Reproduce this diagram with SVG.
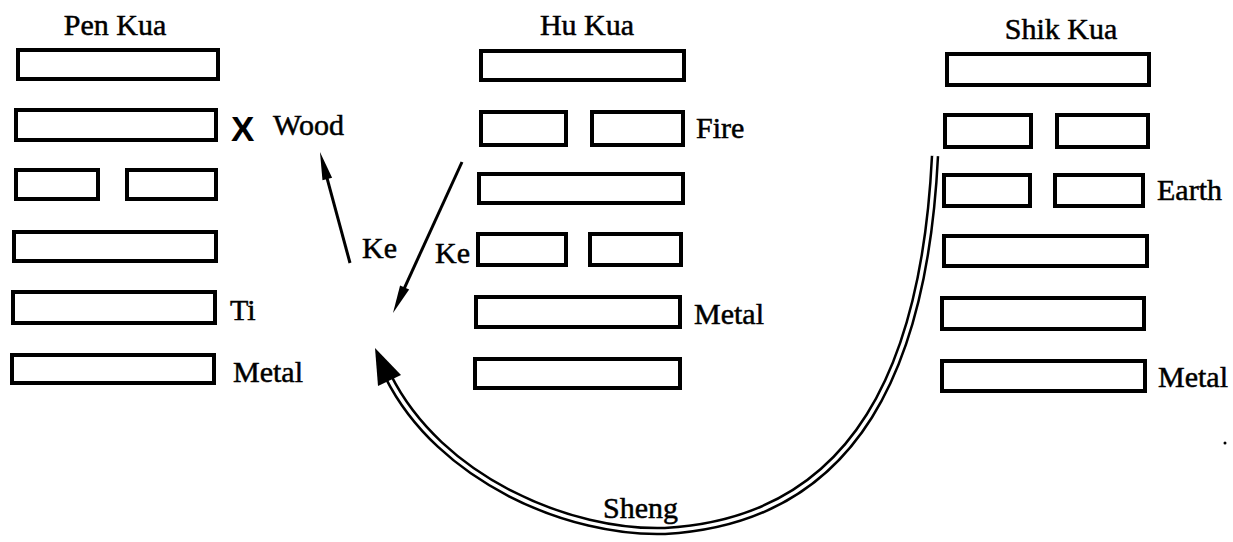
<svg xmlns="http://www.w3.org/2000/svg" width="1233" height="542" viewBox="0 0 1233 542">
<style>
.bar{fill:#fff;stroke:#000;stroke-width:4}
.t{font-family:"Liberation Serif","Times New Roman",serif;font-size:30px;fill:#000;stroke:#000;stroke-width:0.5}
.mid{text-anchor:middle}
.ke{stroke:#000;stroke-width:3;fill:none}
</style>
<defs>
<marker id="ah" viewBox="-10 -7 32 14" refX="0" refY="0" markerWidth="32" markerHeight="14" markerUnits="userSpaceOnUse" orient="auto">
<path d="M20,0 L-8,-5 L-8,5 Z" fill="#000"/>
</marker>
</defs>
<rect width="1233" height="542" fill="#fff"/>
<g id="pen-kua">
<text class="t mid" x="115" y="35">Pen Kua</text>
<rect class="bar" x="18" y="50" width="200" height="29"/>
<rect class="bar" x="16" y="110" width="200" height="30"/>
<rect class="bar" x="16" y="170" width="82" height="29"/>
<rect class="bar" x="127" y="170" width="89" height="29"/>
<rect class="bar" x="14" y="232" width="202" height="29"/>
<rect class="bar" x="13" y="292" width="202" height="31"/>
<rect class="bar" x="12" y="355" width="202" height="28"/>
<text x="231" y="141" style="font-family:'Liberation Sans',Arial,sans-serif;font-size:35px;font-weight:bold">X</text>
<text class="t" x="273" y="135">Wood</text>
<text class="t" x="230" y="320">Ti</text>
<text class="t" x="233" y="382">Metal</text>
</g>
<g id="hu-kua">
<text class="t mid" x="587" y="35">Hu Kua</text>
<rect class="bar" x="481" y="51" width="203" height="29"/>
<rect class="bar" x="481" y="112" width="85" height="33"/>
<rect class="bar" x="592" y="112" width="91" height="33"/>
<rect class="bar" x="479" y="174" width="204" height="29"/>
<rect class="bar" x="478" y="234" width="88" height="31"/>
<rect class="bar" x="590" y="234" width="91" height="31"/>
<rect class="bar" x="476" y="297" width="204" height="30"/>
<rect class="bar" x="475" y="359" width="205" height="29"/>
<text class="t" x="696" y="138">Fire</text>
<text class="t" x="694" y="324">Metal</text>
</g>
<g id="shik-kua">
<text class="t mid" x="1061" y="39">Shik Kua</text>
<rect class="bar" x="947" y="54" width="202" height="31"/>
<rect class="bar" x="945" y="115" width="86" height="32"/>
<rect class="bar" x="1057" y="115" width="91" height="32"/>
<rect class="bar" x="944" y="175" width="86" height="31"/>
<rect class="bar" x="1055" y="175" width="88" height="31"/>
<rect class="bar" x="944" y="236" width="203" height="30"/>
<rect class="bar" x="942" y="298" width="202" height="31"/>
<rect class="bar" x="942" y="361" width="203" height="30"/>
<text class="t" x="1157" y="200">Earth</text>
<text class="t" x="1158" y="387">Metal</text>
</g>
<g id="connectors">
<line class="ke" x1="350" y1="263" x2="325.2" y2="171.3" marker-end="url(#ah)"/>
<line class="ke" x1="462" y1="162" x2="401.3" y2="294.8" marker-end="url(#ah)"/>
<text class="t" x="362" y="258">Ke</text>
<text class="t" x="435" y="263">Ke</text>
<path d="M935,156 C925,360 860,520 665,531 C570,534 440,480 388,376" fill="none" stroke="#000" stroke-width="8.5"/>
<path d="M935,156 C925,360 860,520 665,531 C570,534 440,480 388,376" fill="none" stroke="#fff" stroke-width="3.5"/>
<polygon points="375,348 401,375 378,386" fill="#000"/>
<text class="t" x="603" y="518">Sheng</text>
</g>
<circle cx="1225" cy="443" r="1.5" fill="#000"/>
</svg>
